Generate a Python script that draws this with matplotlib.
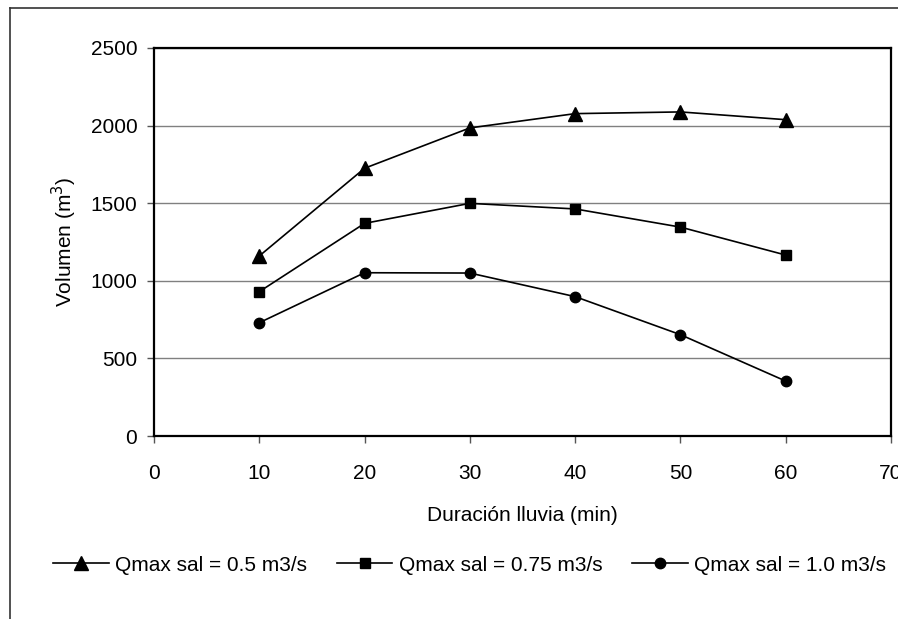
import matplotlib
matplotlib.use("Agg")
import matplotlib.pyplot as plt
from matplotlib.lines import Line2D

plt.rcParams['font.family'] = ['Liberation Sans', 'DejaVu Sans']

duracion = [10, 20, 30, 40, 50, 60]
vol_q050 = [1160, 1725, 1985, 2077, 2088, 2038]
vol_q075 = [930, 1370, 1499, 1463, 1346, 1166]
vol_q100 = [730, 1052, 1050, 898, 653, 354]
labels = ["Qmax sal = 0.5 m3/s", "Qmax sal = 0.75 m3/s", "Qmax sal = 1.0 m3/s"]
x_ticks = [0, 10, 20, 30, 40, 50, 60, 70]
y_ticks = [0, 500, 1000, 1500, 2000, 2500]

fig = plt.figure(figsize=(8.98, 6.19), dpi=100)
ax = fig.add_axes([0.1715, 0.2956, 0.8207, 0.6269])

ax.plot(duracion, vol_q050, color='black', lw=1.2, marker='^', ms=9.5, label=labels[0], clip_on=False)
ax.plot(duracion, vol_q075, color='black', lw=1.2, marker='s', ms=7.5, label=labels[1], clip_on=False)
ax.plot(duracion, vol_q100, color='black', lw=1.2, marker='o', ms=7.5, label=labels[2], clip_on=False)

ax.set_xlim(0, 70)
ax.set_ylim(0, 2500)
ax.set_xticks(x_ticks)
ax.set_yticks(y_ticks)
ax.yaxis.grid(True, color='#808080', lw=1.0)
ax.set_axisbelow(True)
for s in ax.spines.values():
    s.set_color('black')
    s.set_linewidth(1.6)
ax.tick_params(axis='both', direction='out', length=5, width=1.0, color='#555555',
               labelsize=15, colors='black')
ax.tick_params(axis='x', pad=15)
ax.tick_params(axis='y', pad=7)

ax.set_xlabel("Duración lluvia (min)", fontsize=15, labelpad=17)
ax.set_ylabel("Volumen (m$^3$)", fontsize=15, labelpad=8)

fig.legend(loc='center', bbox_to_anchor=(0.523, 0.087), ncol=3, frameon=False,
           fontsize=15, handlelength=2.65, handletextpad=0.3, columnspacing=1.45)

# outer chart frame (left and top edges)
fig.add_artist(Line2D([10/898, 10/898], [0, 1 - 8/619], transform=fig.transFigure,
                      color='#333333', lw=1.2))
fig.add_artist(Line2D([10/898, 1], [1 - 8/619, 1 - 8/619], transform=fig.transFigure,
                      color='#333333', lw=1.2))

fig.savefig("out.png", dpi=100)
